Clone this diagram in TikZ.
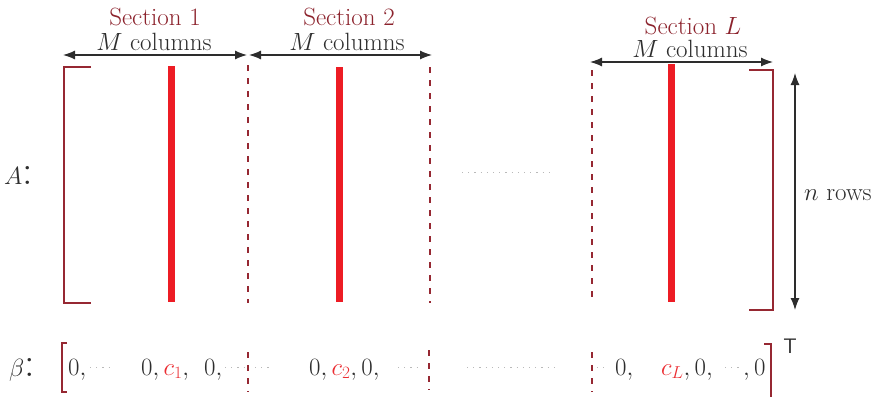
\documentclass[tikz,border=0pt]{standalone}
\usepackage{xcolor}
\usetikzlibrary{arrows.meta}
\definecolor{secred}{RGB}{140,35,45}
\definecolor{brkred}{RGB}{150,40,50}
\definecolor{barred}{RGB}{237,28,36}
\definecolor{cred}{RGB}{235,45,50}
\definecolor{txt}{RGB}{45,45,45}
\definecolor{dotgray}{RGB}{185,185,185}
\begin{document}
\begin{tikzpicture}[x=1pt,y=-1pt,
  lbl/.style={inner sep=0pt,anchor=base,font=\fontsize{25}{30}\selectfont,text=txt},
  seclbl/.style={lbl,text=secred},
  vec/.style={inner sep=0pt,anchor=base west,font=\fontsize{24.5}{29}\selectfont,text=txt},
  big/.style={inner sep=0pt,anchor=base west,font=\fontsize{42}{46}\selectfont,text=txt},
  brk/.style={draw=brkred,line width=1.3pt},
  colbar/.style={draw=barred,line width=6.5pt},
  sepline/.style={draw=brkred,line width=1.1pt,dash pattern=on 6pt off 7pt},
  dotsg/.style={draw=dotgray,line width=1pt,dash pattern=on 1.2pt off 5pt},
  dim/.style={draw=txt,line width=1.2pt,{Latex[length=12pt,width=9pt]}-{Latex[length=12pt,width=9pt]}}
]
\useasboundingbox (0,0) rectangle (873,397);

% ---- labels on top
\node[seclbl] (s1) at (155,25) {Section 1};
\node[lbl] (m1) at (154,50) {$M$ columns};
\node[seclbl] (s2) at (349,25) {Section 2};
\node[lbl] (m2) at (347,50) {$M$ columns};
\node[seclbl] (sL) at (693,34) {Section $L$};
\node[lbl] (mL) at (690,57) {$M$ columns};

% ---- dimension arrows
\coordinate (a1l) at (63,55); \coordinate (a1r) at (247,55);
\coordinate (a2l) at (249,55); \coordinate (a2r) at (432,55);
\coordinate (aLl) at (590,62); \coordinate (aLr) at (773,62);
\draw[dim] (a1l) -- (a1r);
\draw[dim] (a2l) -- (a2r);
\draw[dim] (aLl) -- (aLr);
\coordinate (nt) at (795,73); \coordinate (nb) at (795,310);
\draw[dim] (nt) -- (nb);
\node[lbl,anchor=base west] (nrows) at (804,200) {$n$ rows};

% ---- A label and matrix brackets
\node[big] (A) at (4,184) {$A$:};
\coordinate (Ltt) at (91,67); \coordinate (Lt) at (64,67);
\coordinate (Lb) at (64,303); \coordinate (Lbb) at (91,303);
\draw[brk] (Ltt) -- (Lt) -- (Lb) -- (Lbb);
\coordinate (Rtt) at (749,70); \coordinate (Rt) at (773,70);
\coordinate (Rb) at (773,310); \coordinate (Rbb) at (749,310);
\draw[brk] (Rtt) -- (Rt) -- (Rb) -- (Rbb);

% ---- red columns
\coordinate (c1t) at (171.5,66); \coordinate (c1b) at (171.5,302);
\coordinate (c2t) at (339.5,67); \coordinate (c2b) at (339.5,302);
\coordinate (cLt) at (671.5,64); \coordinate (cLb) at (671.5,302);
\draw[colbar] (c1t) -- (c1b);
\draw[colbar] (c2t) -- (c2b);
\draw[colbar] (cLt) -- (cLb);

% ---- section separators
\coordinate (d1t) at (248,65); \coordinate (d1b) at (248,303);
\coordinate (d2t) at (430,67); \coordinate (d2b) at (430,303);
\coordinate (d3t) at (592,70); \coordinate (d3b) at (592,303);
\draw[sepline] (d1t) -- (d1b);
\draw[sepline] (d2t) -- (d2b);
\draw[sepline] (d3t) -- (d3b);

% middle dots in A
\coordinate (ma) at (462,172); \coordinate (mb) at (552,172);
\draw[dotsg] (ma) -- (mb);

% ---- beta row
\node[big] (beta) at (9,376) {$\beta$:};
\coordinate (blt) at (67,343); \coordinate (bl1) at (62,343);
\coordinate (bl2) at (62,392); \coordinate (blb) at (67,392);
\draw[brk] (blt) -- (bl1) -- (bl2) -- (blb);
\coordinate (brt) at (764,344); \coordinate (br1) at (771,344);
\coordinate (br2) at (771,397);
\draw[brk] (brt) -- (br1) -- (br2);
\node[inner sep=0pt,font=\sffamily\fontsize{21}{24}\selectfont,text=txt] (T) at (790,346) {T};

\node[vec] (b1) at (68,375) {$0,$};
\node[vec] (b2) at (141,375) {$0,\textcolor{cred}{c_1},$};
\node[vec] (b3) at (204,375) {$0,$};
\node[vec] (b4) at (309,375) {$0,\textcolor{cred}{c_2},0,$};
\node[vec] (b5) at (615,375) {$0,$};
\node[vec] (b6) at (661,375) {$\textcolor{cred}{c_L},0,$};
\node[vec] (b7) at (743,375) {$,0$};

\coordinate (e1t) at (248,352); \coordinate (e1b) at (248,392);
\coordinate (e2t) at (429,350); \coordinate (e2b) at (429,390);
\coordinate (e3t) at (592,352); \coordinate (e3b) at (592,392);
\draw[sepline] (e1t) -- (e1b);
\draw[sepline] (e2t) -- (e2b);
\draw[sepline] (e3t) -- (e3b);

\coordinate (g1a) at (90,367); \coordinate (g1b) at (111,367);
\coordinate (g2a) at (225,367); \coordinate (g2b) at (246,367);
\coordinate (g3a) at (255,367); \coordinate (g3b) at (273,367);
\coordinate (g4a) at (398,367); \coordinate (g4b) at (420,367);
\coordinate (g5a) at (467,367); \coordinate (g5b) at (556,367);
\coordinate (g6a) at (597,367); \coordinate (g6b) at (608,367);
\coordinate (g7a) at (725,367); \coordinate (g7b) at (741,367);
\draw[dotsg] (g1a) -- (g1b);
\draw[dotsg] (g2a) -- (g2b);
\draw[dotsg] (g3a) -- (g3b);
\draw[dotsg] (g4a) -- (g4b);
\draw[dotsg] (g5a) -- (g5b);
\draw[dotsg] (g6a) -- (g6b);
\draw[dotsg] (g7a) -- (g7b);
\end{tikzpicture}
\end{document}
